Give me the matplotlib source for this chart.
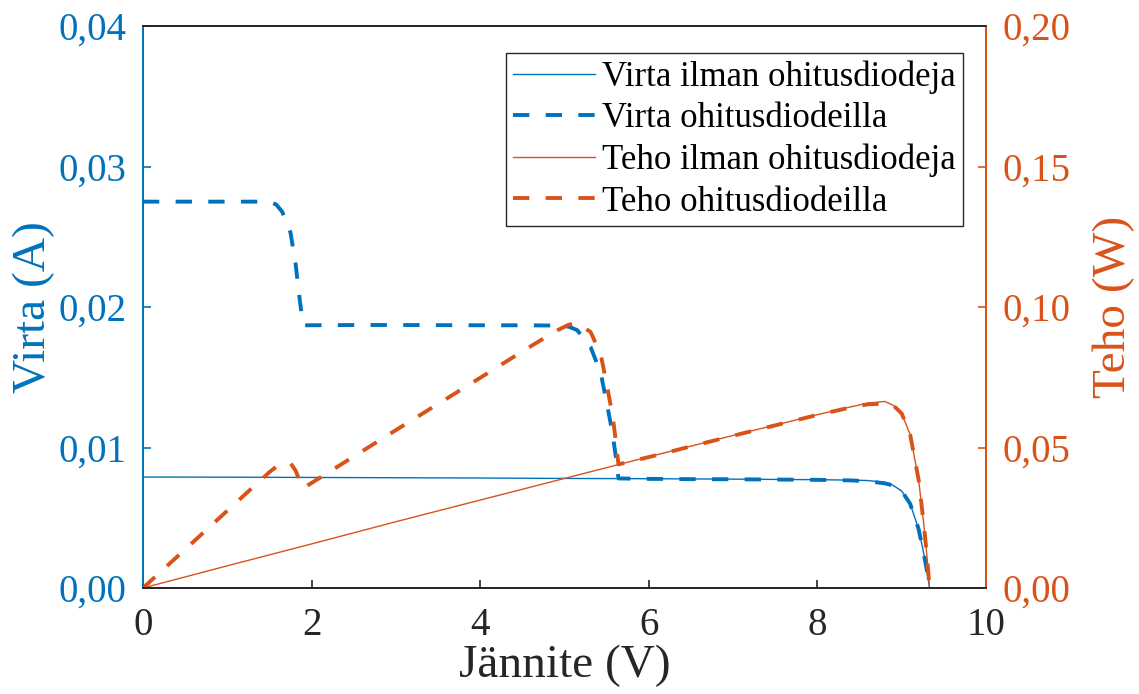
import matplotlib
matplotlib.use("Agg")
import matplotlib.pyplot as plt
from matplotlib.ticker import FuncFormatter

plt.rcParams["font.family"] = ["Liberation Serif", "DejaVu Serif"]

BLUE = (0.0, 0.447, 0.741)
ORANGE = (0.851, 0.325, 0.098)
DARK = "#262626"

# without bypass diodes
v_plain = [0, 1, 2, 3, 4, 5, 6, 7, 8, 8.4, 8.6, 8.8, 8.9, 9.0, 9.1, 9.2, 9.26, 9.3, 9.33]
i_plain = [0.0079, 0.00789, 0.00787, 0.00785, 0.00783, 0.0078, 0.00778, 0.00775, 0.00771,
           0.00768, 0.00765, 0.00752, 0.0073, 0.0069, 0.0060, 0.0042, 0.0025, 0.0012, 0.0]
p_plain = [0.0, 0.0079, 0.0157, 0.0236, 0.0313, 0.039, 0.0467, 0.0543, 0.0617,
           0.0645, 0.0658, 0.0664, 0.065, 0.0621, 0.0546, 0.0386, 0.0232, 0.0112, 0.0]

# with bypass diodes
v_diode = [0, 0.5, 1.0, 1.5, 1.58, 1.65, 1.75, 1.81, 1.86, 1.9, 2.5, 3.0, 3.5, 4.0, 4.5,
           4.9, 5.05, 5.15, 5.31, 5.43, 5.51, 5.57, 5.61, 5.64, 6.0, 6.5, 7.0, 7.5, 8.0,
           8.4, 8.6, 8.8, 8.9, 9.0, 9.1, 9.2, 9.26, 9.3, 9.33]
i_diode = [0.0275, 0.0275, 0.0275, 0.0275, 0.0273, 0.0268, 0.0253, 0.0231, 0.0205, 0.0187,
           0.01872, 0.01872, 0.01871, 0.0187, 0.0187, 0.01868, 0.0186, 0.01836, 0.01715,
           0.0153, 0.0129, 0.011, 0.0093, 0.0078, 0.00777, 0.00775, 0.00774, 0.00772,
           0.0077, 0.00766, 0.0076, 0.00745, 0.0073, 0.0069, 0.006, 0.0042, 0.0025, 0.0012, 0.0]
p_diode = [0.0, 0.01375, 0.0275, 0.04125, 0.0431, 0.0442, 0.0445, 0.0418, 0.0381, 0.0355,
           0.0468, 0.0562, 0.0655, 0.0748, 0.0842, 0.0915, 0.0937, 0.0943, 0.0911, 0.0831,
           0.0711, 0.0613, 0.0522, 0.044, 0.0466, 0.0504, 0.0542, 0.0579, 0.0616, 0.0643,
           0.0654, 0.0656, 0.065, 0.0621, 0.0546, 0.0386, 0.0232, 0.0112, 0.0]

labels = ["Virta ilman ohitusdiodeja", "Virta ohitusdiodeilla",
          "Teho ilman ohitusdiodeja", "Teho ohitusdiodeilla"]


def comma(v, pos):
    return f"{v:.2f}".replace(".", ",")


fig = plt.figure(figsize=(11.39, 6.94), dpi=100)
ax = fig.add_axes([0.1255, 0.1527, 0.7402, 0.8098])
ax2 = ax.twinx()

l1, = ax.plot(v_plain, i_plain, color=BLUE, lw=1.0)
l2, = ax.plot(v_diode, i_diode, color=BLUE, lw=2.8, dashes=(4.2, 4.2))
l3, = ax2.plot(v_plain, p_plain, color=ORANGE, lw=1.0)
l4, = ax2.plot(v_diode, p_diode, color=ORANGE, lw=2.8, dashes=(4.2, 4.2))

ax.set_xlim(0, 10)
ax.set_ylim(0, 0.04)
ax2.set_ylim(0, 0.20)
ax.set_xticks([0, 2, 4, 6, 8, 10])
ax.set_yticks([0, 0.01, 0.02, 0.03, 0.04])
ax2.set_yticks([0, 0.05, 0.10, 0.15, 0.20])
ax.yaxis.set_major_formatter(FuncFormatter(comma))
ax2.yaxis.set_major_formatter(FuncFormatter(comma))

for a in (ax, ax2):
    for s in a.spines.values():
        s.set_linewidth(1.3)
        s.set_color(DARK)
    a.spines["left"].set_color(BLUE)
    a.spines["right"].set_color(ORANGE)

ax.tick_params(axis="x", direction="in", length=6, width=1.2, colors=DARK,
               labelsize=28, pad=14)
ax.tick_params(axis="y", direction="in", length=6, width=1.2, colors=BLUE,
               labelsize=28, pad=12)
ax2.tick_params(axis="y", direction="in", length=6, width=1.2, colors=ORANGE,
                labelsize=28, pad=12)

ax.set_xlabel("Jännite (V)", fontsize=34, color=DARK, labelpad=0)
ax.set_ylabel("Virta (A)", fontsize=34, color=BLUE, labelpad=2)
ax2.set_ylabel("Teho (W)", fontsize=34, color=ORANGE, labelpad=16)

leg = ax2.legend([l1, l2, l3, l4], labels, loc="upper right",
                 bbox_to_anchor=(0.973, 0.952), borderaxespad=0, fontsize=25,
                 fancybox=False, framealpha=1, edgecolor=DARK,
                 handlelength=2.35, handletextpad=0.2, labelspacing=0.24,
                 borderpad=0.22)
leg.get_frame().set_linewidth(1.0)

fig.savefig("out.png", dpi=100)
